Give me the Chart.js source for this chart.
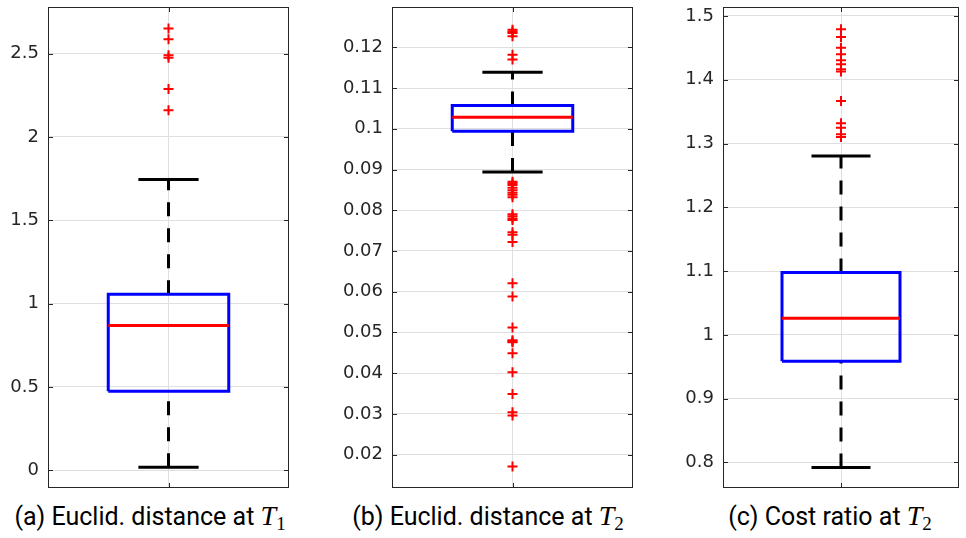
<!DOCTYPE html>
<html>
<head>
<meta charset="utf-8">
<script src="https://cdn.jsdelivr.net/npm/chart.js@4.4.1/dist/chart.umd.min.js"></script>
<style>
  body { margin: 0; background: #fff; overflow: hidden; }
  canvas { position: absolute; top: 0; }
  .caption {
    position: absolute; top: 503px; line-height: 25px; transform: translateX(-50%);
    font-family: Roboto, sans-serif; font-size: 25px; color: #000; white-space: nowrap;
  }
  .caption i { font-family: "Liberation Serif", serif; font-size: 28px; }
  .caption sub { font-family: "Liberation Serif", serif; font-size: 19px; vertical-align: -5px; }
</style>
</head>
<body>
<canvas id="chartA" width="296" height="495" style="left:0px"></canvas>
<canvas id="chartB" width="310" height="495" style="left:330px"></canvas>
<canvas id="chartC" width="296" height="495" style="left:670px"></canvas>
<div class="caption" style="left:150px">(a) Euclid. distance at <i>T</i><sub>1</sub></div>
<div class="caption" style="left:488px">(b) Euclid. distance at <i>T</i><sub>2</sub></div>
<div class="caption" style="left:830px">(c) Cost ratio at <i>T</i><sub>2</sub></div>
<script>
// box statistics, one entry per panel (a, b, c)
const q1Values = [0.473, 0.0994, 0.9588];
const medianValues = [0.869, 0.1028, 1.0261];
const q3Values = [1.056, 0.1057, 1.0977];
const lowWhisker = [0.017, 0.0894, 0.792];
const highWhisker = [1.745, 0.1139, 1.2806];

// outliers
const outliersA = [2.651, 2.587, 2.49, 2.476, 2.288, 2.16];
const outliersB = [0.1243, 0.1239, 0.1235, 0.1227, 0.1182, 0.117,
  0.087, 0.0866, 0.0862, 0.0855, 0.0849, 0.0843, 0.0838, 0.0832,
  0.079, 0.0785, 0.078, 0.0776, 0.0746, 0.074, 0.0722,
  0.0621, 0.0588, 0.0512, 0.0481, 0.0478, 0.0476, 0.0449,
  0.0402, 0.0349, 0.0304, 0.0296, 0.0171];
const outliersC = [1.4792, 1.4671, 1.4503, 1.44, 1.4306, 1.4243, 1.4165, 1.4127,
  1.3668, 1.3318, 1.3249, 1.3146, 1.3103];

// y axes
const ticksA = [0, 0.5, 1, 1.5, 2, 2.5];
const ticksB = [0.02, 0.03, 0.04, 0.05, 0.06, 0.07, 0.08, 0.09, 0.1, 0.11, 0.12];
const ticksC = [0.8, 0.9, 1, 1.1, 1.2, 1.3, 1.4, 1.5];
const rangeMin = [-0.107, 0.0118, 0.76];
const rangeMax = [2.78, 0.1299, 1.514];

const center = 1;
const boxHalf = 0.25;
const capHalf = 0.125;
const gridColor = "#dfdfdf";
const axisColor = "#262626";

// frame and inward tick marks like the original figure
const framePlugin = {
  id: "frame",
  afterDraw(chart) {
    const { ctx, chartArea: a, scales } = chart;
    ctx.save();
    ctx.strokeStyle = axisColor;
    ctx.lineWidth = 1;
    ctx.strokeRect(a.left + 0.5, a.top + 0.5, a.right - a.left - 1, a.bottom - a.top - 1);
    ctx.beginPath();
    scales.y.ticks.forEach((t) => {
      const y = Math.round(scales.y.getPixelForValue(t.value)) + 0.5;
      ctx.moveTo(a.left, y); ctx.lineTo(a.left + 5, y);
      ctx.moveTo(a.right - 5, y); ctx.lineTo(a.right, y);
    });
    const x = Math.round(scales.x.getPixelForValue(center)) + 0.5;
    ctx.moveTo(x, a.bottom); ctx.lineTo(x, a.bottom - 5);
    ctx.moveTo(x, a.top); ctx.lineTo(x, a.top + 5);
    ctx.stroke();
    ctx.restore();
  },
};

function lineSet(points, color, dash) {
  return {
    type: "line",
    data: points,
    borderColor: color,
    borderWidth: 3,
    borderDash: dash || [],
    borderJoinStyle: "miter",
    pointRadius: 0,
    fill: false,
    tension: 0,
  };
}

function makePanel(id, i, outliers, tickValues, yWidth, padRight) {
  const q1 = q1Values[i], q3 = q3Values[i], med = medianValues[i];
  const lo = lowWhisker[i], hi = highWhisker[i];
  const datasets = [
    {
      type: "scatter",
      data: outliers.map((v) => ({ x: center, y: v })),
      pointStyle: "cross",
      pointRadius: 5,
      borderColor: "#ff0000",
      borderWidth: 2,
    },
    lineSet([{ x: center - boxHalf, y: med }, { x: center + boxHalf, y: med }], "#ff0000"),
    lineSet([
      { x: center - boxHalf, y: q1 }, { x: center + boxHalf, y: q1 },
      { x: center + boxHalf, y: q3 }, { x: center - boxHalf, y: q3 },
      { x: center - boxHalf, y: q1 },
    ], "#0000ff"),
    lineSet([{ x: center - capHalf, y: hi }, { x: center + capHalf, y: hi }], "#000000"),
    lineSet([{ x: center - capHalf, y: lo }, { x: center + capHalf, y: lo }], "#000000"),
    lineSet([{ x: center, y: q3 }, { x: center, y: hi }], "#000000", [14, 12]),
    lineSet([{ x: center, y: lo }, { x: center, y: q1 }], "#000000", [14, 12]),
  ];

  new Chart(document.getElementById(id), {
    type: "scatter",
    data: { datasets: datasets },
    plugins: [framePlugin],
    options: {
      responsive: false,
      animation: false,
      layout: { padding: { top: 6, bottom: 7, left: 0, right: padRight } },
      plugins: { legend: { display: false }, tooltip: { enabled: false } },
      scales: {
        x: {
          type: "linear",
          min: 0.5,
          max: 1.5,
          afterBuildTicks: (axis) => { axis.ticks = [{ value: center }]; },
          afterFit: (axis) => { axis.height = 0; axis.paddingLeft = 0; axis.paddingRight = 0; },
          ticks: { display: false },
          grid: { color: gridColor, drawTicks: false },
          border: { display: false },
        },
        y: {
          min: rangeMin[i],
          max: rangeMax[i],
          afterBuildTicks: (axis) => { axis.ticks = tickValues.map((v) => ({ value: v })); },
          afterFit: (axis) => { axis.width = yWidth; axis.paddingTop = 0; axis.paddingBottom = 0; },
          ticks: {
            padding: 9,
            color: axisColor,
            font: { family: "DejaVu Sans", size: 18 },
            callback: (v) => String(+Number(v).toFixed(3)),
          },
          grid: { color: gridColor, drawTicks: false },
          border: { display: false },
        },
      },
    },
  });
}

makePanel("chartA", 0, outliersA, ticksA, 48, 5);
makePanel("chartB", 1, outliersB, ticksB, 62, 5);
makePanel("chartC", 2, outliersC, ticksC, 53, 0);
</script>
</body>
</html>
